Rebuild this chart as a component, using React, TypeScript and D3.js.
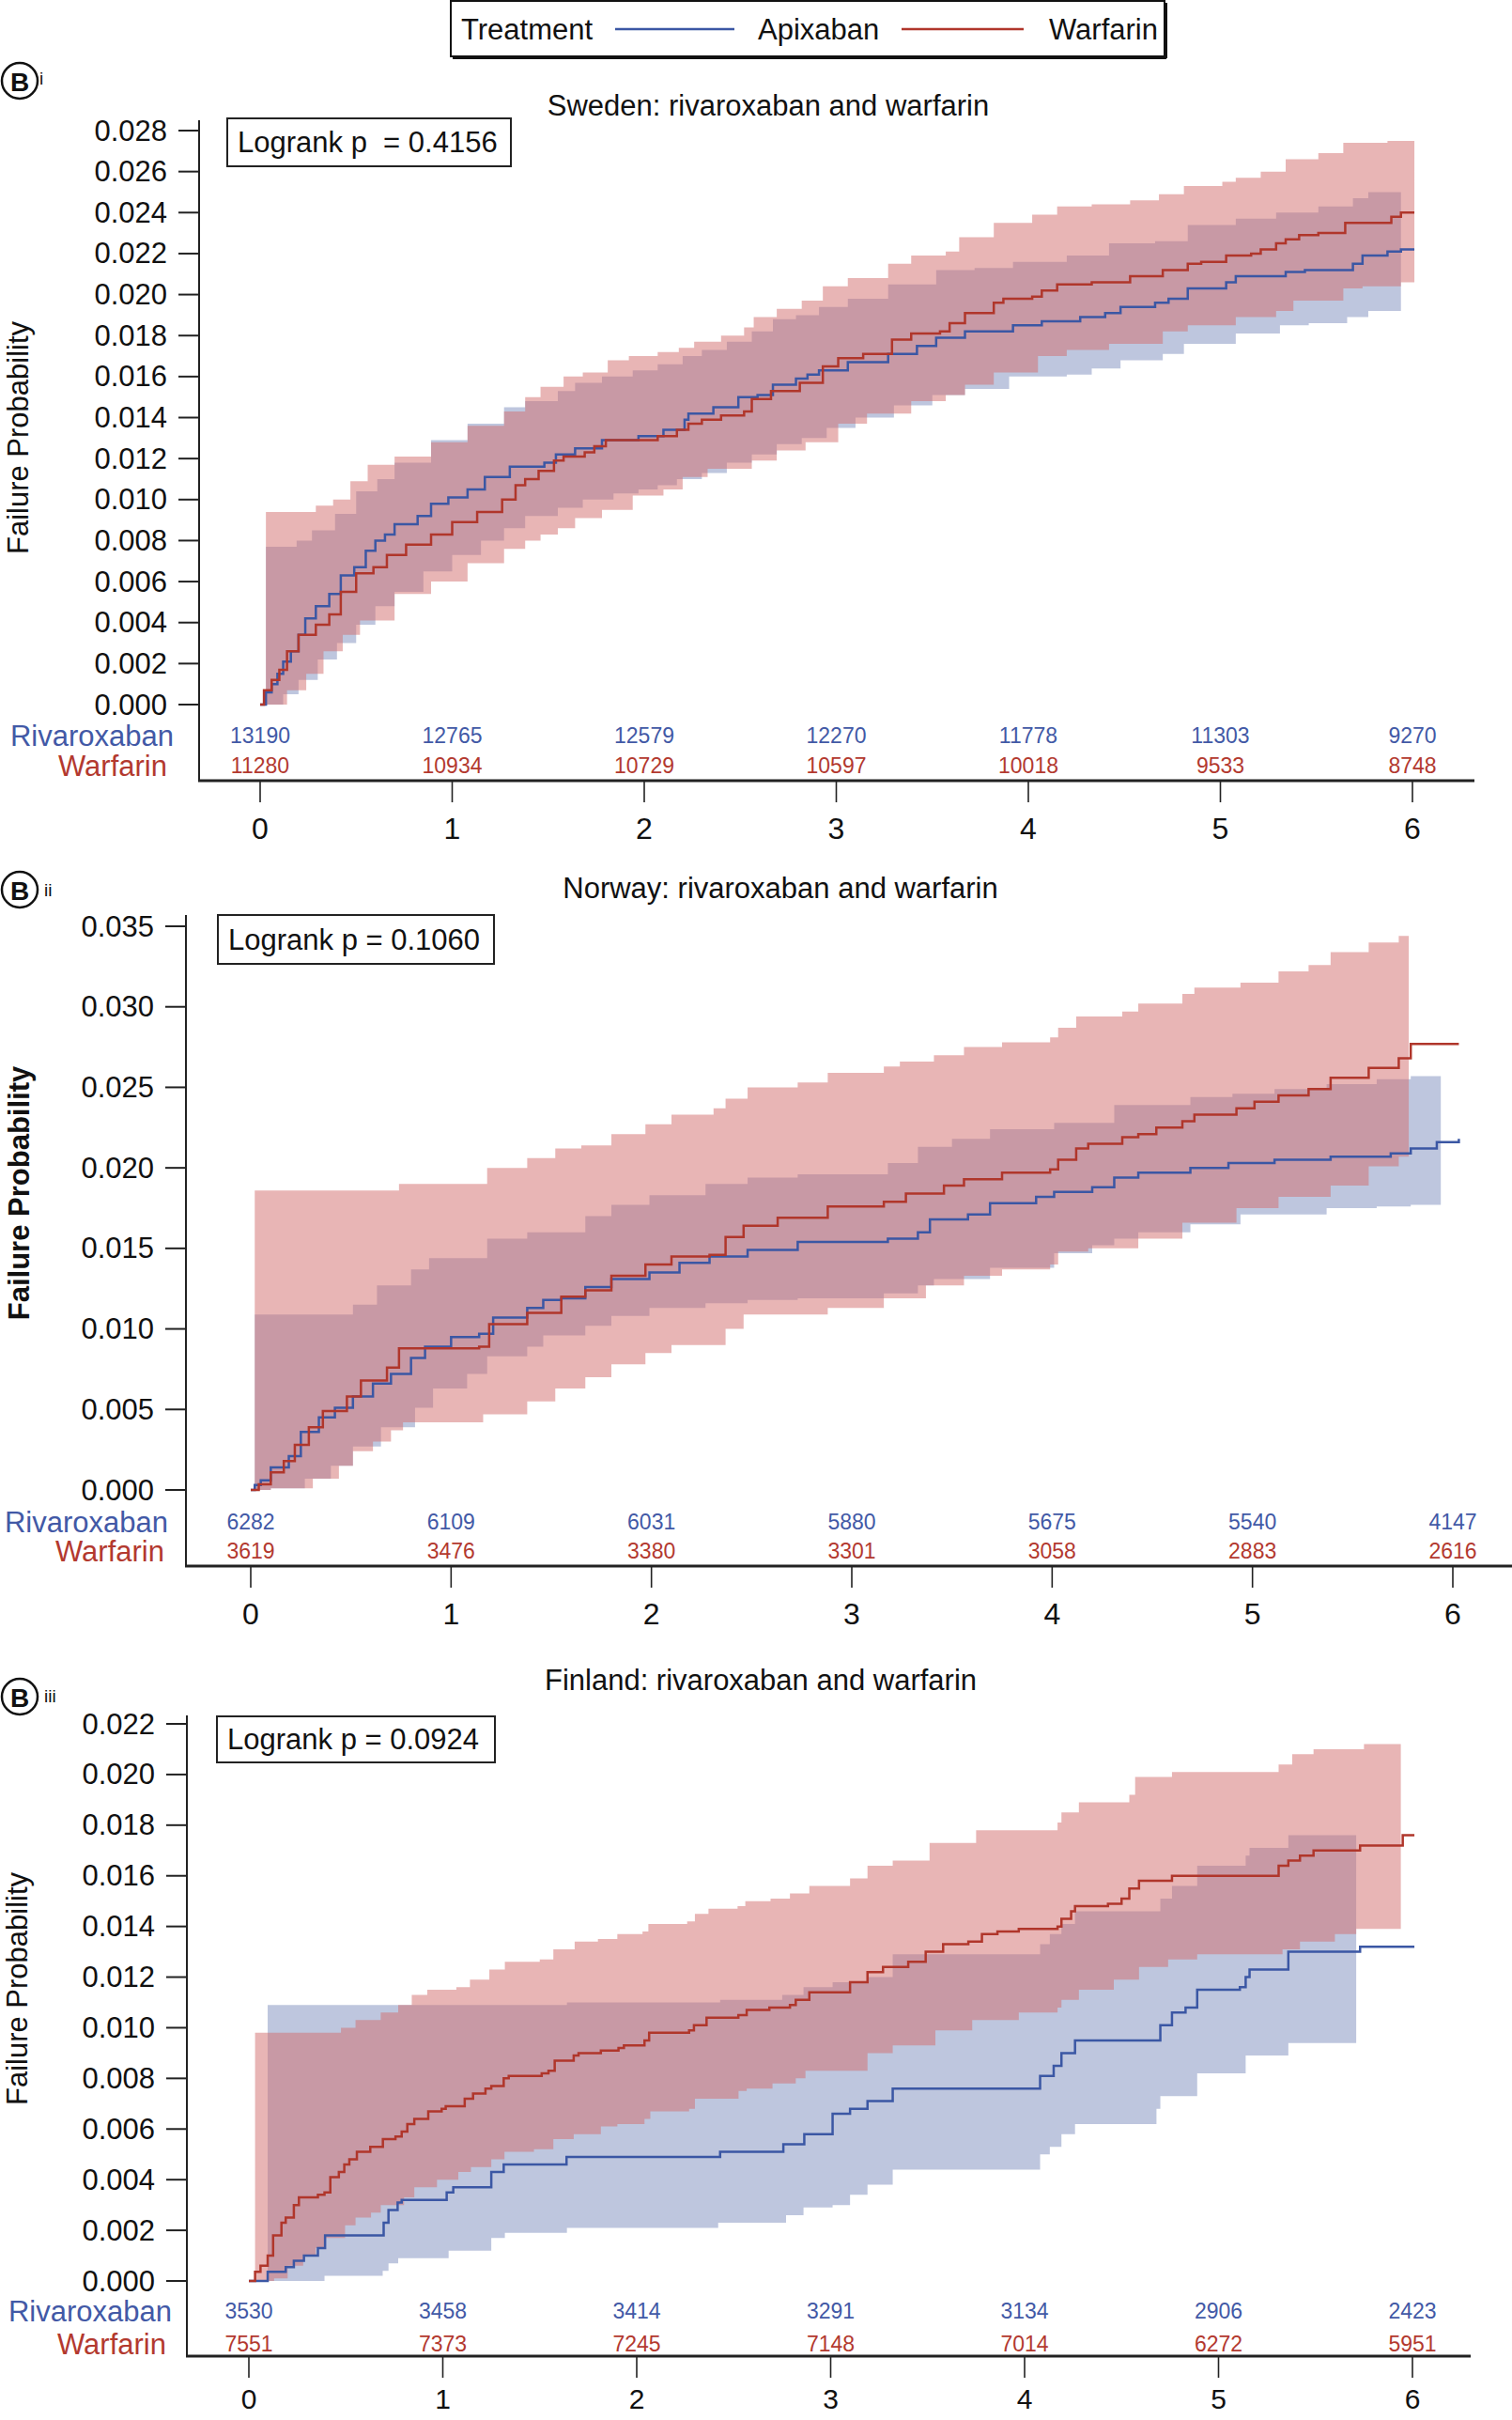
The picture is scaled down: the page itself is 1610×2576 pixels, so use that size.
import React from 'react';
import * as d3 from 'd3';

// ---------------- DATA ----------------
const years = [0, 1, 2, 3, 4, 5, 6];
const legendItems = ['Apixaban', 'Warfarin'];

// Sweden
const swedenTitle = 'Sweden: rivaroxaban and warfarin';
const swedenLogrank = 'Logrank p  = 0.4156';
const swedenRiskRivaroxaban = [13190, 12765, 12579, 12270, 11778, 11303, 9270];
const swedenRiskWarfarin = [11280, 10934, 10729, 10597, 10018, 9533, 8748];
const swedenRivaroxaban = [
  [0, 0], [0.03, 0.0006], [0.06, 0.001], [0.09, 0.0015], [0.12, 0.0021], [0.16, 0.0026], [0.2, 0.0034], [0.235, 0.0042],
  [0.29, 0.0048], [0.36, 0.0054], [0.42, 0.0063], [0.49, 0.0067], [0.55, 0.0075], [0.6, 0.008], [0.65, 0.0083], [0.7, 0.0088],
  [0.82, 0.0092], [0.89, 0.0098], [0.98, 0.0101], [1.08, 0.0105], [1.17, 0.0111], [1.3, 0.0116], [1.48, 0.0118], [1.54, 0.0122],
  [1.64, 0.0125], [1.78, 0.0129], [1.97, 0.0131], [2.1, 0.0134], [2.21, 0.0139], [2.23, 0.0142], [2.36, 0.0145], [2.49, 0.015],
  [2.59, 0.0151], [2.67, 0.0156], [2.79, 0.0159], [2.85, 0.0161], [2.91, 0.0163], [3.06, 0.0167], [3.27, 0.0171], [3.42, 0.0175],
  [3.52, 0.0179], [3.67, 0.0182], [3.92, 0.0185], [4.07, 0.0187], [4.27, 0.0189], [4.4, 0.0191], [4.48, 0.0194], [4.66, 0.0196],
  [4.73, 0.0198], [4.83, 0.0203], [5.03, 0.0206], [5.08, 0.0209], [5.34, 0.0211], [5.44, 0.0212], [5.69, 0.0215], [5.74, 0.0219],
  [5.87, 0.0221], [5.94, 0.0222], [6.01, 0.0222],
];
const swedenWarfarin = [
  [0, 0], [0.02, 0.0007], [0.06, 0.0012], [0.1, 0.0017], [0.14, 0.0026], [0.2, 0.0034], [0.29, 0.0039], [0.36, 0.0044],
  [0.42, 0.0055], [0.5, 0.0064], [0.59, 0.0067], [0.66, 0.0073], [0.76, 0.0078], [0.89, 0.0083], [1.0, 0.0089], [1.13, 0.0094],
  [1.26, 0.01], [1.33, 0.0107], [1.38, 0.011], [1.45, 0.0114], [1.53, 0.0119], [1.58, 0.0121], [1.69, 0.0123], [1.74, 0.0126],
  [1.8, 0.0129], [2.07, 0.0131], [2.17, 0.0134], [2.23, 0.0137], [2.3, 0.0139], [2.4, 0.0141], [2.52, 0.0143], [2.56, 0.0149],
  [2.66, 0.0153], [2.81, 0.0157], [2.93, 0.0165], [3.01, 0.0169], [3.14, 0.0171], [3.29, 0.0178], [3.39, 0.0181], [3.54, 0.0182],
  [3.59, 0.0186], [3.67, 0.0191], [3.82, 0.0196], [3.87, 0.0198], [4.02, 0.0199], [4.07, 0.0202], [4.15, 0.0205], [4.33, 0.0206],
  [4.53, 0.0209], [4.7, 0.0212], [4.83, 0.0215], [4.9, 0.0216], [5.03, 0.0219], [5.16, 0.022], [5.21, 0.0222], [5.29, 0.0225],
  [5.34, 0.0227], [5.41, 0.0229], [5.51, 0.023], [5.65, 0.0235], [5.89, 0.0238], [5.94, 0.024], [6.01, 0.024],
];
const swedenWarfarinUpper = [
  [0.03, 0.0094], [0.29, 0.0097], [0.38, 0.01], [0.47, 0.0109], [0.56, 0.0117], [0.7, 0.0121], [0.89, 0.0128], [1.08, 0.0136],
  [1.27, 0.0143], [1.38, 0.015], [1.46, 0.0155], [1.58, 0.016], [1.68, 0.0162], [1.81, 0.0168], [1.92, 0.017], [2.07, 0.0172],
  [2.18, 0.0174], [2.26, 0.0177], [2.4, 0.018], [2.52, 0.0184], [2.57, 0.0189], [2.69, 0.0193], [2.82, 0.0197], [2.93, 0.0204],
  [3.06, 0.0208], [3.27, 0.0215], [3.39, 0.0219], [3.57, 0.0221], [3.64, 0.0228], [3.82, 0.0235], [4.02, 0.0239], [4.15, 0.0243],
  [4.33, 0.0244], [4.53, 0.0246], [4.68, 0.0249], [4.81, 0.0253], [5.01, 0.0255], [5.08, 0.0257], [5.21, 0.026], [5.34, 0.0266],
  [5.51, 0.0269], [5.64, 0.0274], [5.87, 0.0275], [6.01, 0.0277],
];
const swedenWarfarinLower = [
  [0.03, 0], [0.14, 0.0007], [0.24, 0.0015], [0.33, 0.0026], [0.43, 0.0034], [0.52, 0.0041], [0.7, 0.0054], [0.89, 0.006],
  [1.08, 0.0069], [1.27, 0.0076], [1.38, 0.008], [1.46, 0.0083], [1.55, 0.0086], [1.64, 0.0091], [1.78, 0.0095], [1.94, 0.0102],
  [2.1, 0.0105], [2.2, 0.0111], [2.33, 0.0115], [2.56, 0.0119], [2.69, 0.0124], [2.84, 0.0128], [3.01, 0.0137], [3.16, 0.0142],
  [3.39, 0.0148], [3.57, 0.0151], [3.67, 0.0156], [3.82, 0.0162], [4.05, 0.017], [4.2, 0.0173], [4.42, 0.0176], [4.7, 0.0182],
  [4.83, 0.0185], [5.08, 0.0189], [5.29, 0.0192], [5.38, 0.0197], [5.64, 0.0203], [5.74, 0.0204], [5.94, 0.0206], [6.01, 0.0207],
];
const swedenRivaroxabanUpper = [
  [0.03, 0.0077], [0.19, 0.008], [0.27, 0.0085], [0.39, 0.0093], [0.5, 0.0104], [0.61, 0.011], [0.7, 0.0118], [0.89, 0.0129],
  [1.08, 0.0137], [1.27, 0.0145], [1.38, 0.0148], [1.55, 0.0153], [1.64, 0.0157], [1.78, 0.016], [1.94, 0.0163], [2.07, 0.0166],
  [2.2, 0.017], [2.3, 0.0173], [2.43, 0.0177], [2.56, 0.0182], [2.67, 0.0188], [2.79, 0.019], [2.91, 0.0194], [3.06, 0.0198],
  [3.27, 0.0205], [3.52, 0.0212], [3.72, 0.0213], [3.92, 0.0216], [4.2, 0.0219], [4.42, 0.0225], [4.66, 0.0226], [4.83, 0.0234],
  [5.08, 0.0237], [5.29, 0.024], [5.51, 0.0243], [5.69, 0.0247], [5.77, 0.025], [5.94, 0.0252],
];
const swedenRivaroxabanLower = [
  [0.03, 0], [0.12, 0.0005], [0.2, 0.0012], [0.3, 0.0022], [0.4, 0.003], [0.5, 0.0039], [0.6, 0.0048], [0.7, 0.0055],
  [0.85, 0.0065], [1.0, 0.0073], [1.15, 0.008], [1.27, 0.0086], [1.38, 0.0092], [1.55, 0.0096], [1.68, 0.01], [1.84, 0.0103],
  [1.97, 0.0105], [2.07, 0.0107], [2.17, 0.011], [2.3, 0.0113], [2.43, 0.0118], [2.56, 0.0122], [2.69, 0.0127], [2.82, 0.013],
  [2.95, 0.0135], [3.1, 0.014], [3.3, 0.0146], [3.5, 0.0151], [3.67, 0.0154], [3.9, 0.016], [4.2, 0.0161], [4.33, 0.0164],
  [4.48, 0.0168], [4.7, 0.0171], [4.81, 0.0176], [5.08, 0.0181], [5.31, 0.0185], [5.46, 0.0186], [5.66, 0.0189], [5.77, 0.0192],
  [5.94, 0.0195],
];

// Norway
const norwayTitle = 'Norway: rivaroxaban and warfarin';
const norwayLogrank = 'Logrank p = 0.1060';
const norwayRiskRivaroxaban = [6282, 6109, 6031, 5880, 5675, 5540, 4147];
const norwayRiskWarfarin = [3619, 3476, 3380, 3301, 3058, 2883, 2616];
const norwayRivaroxaban = [
  [0, 0], [0.02, 0.0003], [0.05, 0.0006], [0.1, 0.0014], [0.19, 0.0021], [0.25, 0.0036], [0.34, 0.0045], [0.42, 0.0051],
  [0.51, 0.0058], [0.61, 0.0066], [0.7, 0.0072], [0.8, 0.0082], [0.87, 0.0089], [1.0, 0.0095], [1.14, 0.0097], [1.21, 0.0107],
  [1.38, 0.0113], [1.46, 0.0118], [1.55, 0.0119], [1.67, 0.0126], [1.8, 0.0131], [1.99, 0.0135], [2.14, 0.0141], [2.29, 0.0145],
  [2.48, 0.0149], [2.73, 0.0154], [3.18, 0.0156], [3.33, 0.016], [3.39, 0.0168], [3.58, 0.0171], [3.69, 0.0178], [3.92, 0.0182],
  [4.01, 0.0185], [4.2, 0.0188], [4.31, 0.0194], [4.43, 0.0197], [4.69, 0.02], [4.88, 0.0203], [5.11, 0.0205], [5.39, 0.0207],
  [5.69, 0.0209], [5.79, 0.0212], [5.92, 0.0216], [6.03, 0.0218],
];
const norwayWarfarin = [
  [0, 0], [0.04, 0.00035], [0.1, 0.0011], [0.165, 0.0018], [0.22, 0.0028], [0.29, 0.0039], [0.36, 0.0049], [0.48, 0.0058],
  [0.55, 0.0068], [0.68, 0.0076], [0.74, 0.0088], [1.14, 0.0089], [1.19, 0.0103], [1.38, 0.011], [1.55, 0.012], [1.67, 0.0124],
  [1.8, 0.0133], [1.97, 0.014], [2.1, 0.0145], [2.29, 0.0146], [2.37, 0.0157], [2.46, 0.0164], [2.63, 0.0169], [2.88, 0.0176],
  [3.16, 0.0179], [3.27, 0.0184], [3.46, 0.0189], [3.56, 0.0193], [3.75, 0.0197], [3.99, 0.0199], [4.03, 0.0205], [4.12, 0.0212],
  [4.18, 0.0215], [4.35, 0.0219], [4.43, 0.0221], [4.52, 0.0225], [4.65, 0.0229], [4.71, 0.0233], [4.92, 0.0237], [5.01, 0.0241],
  [5.13, 0.0245], [5.28, 0.0249], [5.39, 0.0256], [5.58, 0.0262], [5.73, 0.0268], [5.79, 0.0277], [6.03, 0.0277],
];
const norwayWarfarinUpper = [
  [0.02, 0.0186], [0.74, 0.019], [1.18, 0.02], [1.38, 0.0206], [1.52, 0.0212], [1.65, 0.0214], [1.8, 0.0221], [1.97, 0.0227],
  [2.1, 0.0233], [2.31, 0.0237], [2.37, 0.0243], [2.48, 0.025], [2.73, 0.0253], [2.88, 0.0259], [3.16, 0.0263], [3.24, 0.0266],
  [3.41, 0.027], [3.56, 0.0275], [3.75, 0.0278], [3.99, 0.0281], [4.03, 0.0287], [4.12, 0.0294], [4.35, 0.0297], [4.43, 0.0302],
  [4.65, 0.0308], [4.71, 0.0312], [4.94, 0.0315], [5.13, 0.0322], [5.28, 0.0326], [5.39, 0.0334], [5.58, 0.034], [5.73, 0.0344],
  [5.78, 0.0344],
];
const norwayWarfarinLower = [
  [0.02, 0], [0.1, 0.0001], [0.31, 0.0007], [0.44, 0.0015], [0.51, 0.0024], [0.61, 0.003], [0.7, 0.0037], [0.76, 0.0042],
  [1.16, 0.0047], [1.38, 0.0055], [1.52, 0.0063], [1.67, 0.007], [1.8, 0.0078], [1.97, 0.0085], [2.1, 0.009], [2.37, 0.01],
  [2.46, 0.0109], [2.88, 0.0113], [3.16, 0.0119], [3.37, 0.0127], [3.56, 0.0133], [3.75, 0.0137], [3.99, 0.014], [4.03, 0.0148],
  [4.18, 0.015], [4.43, 0.0156], [4.65, 0.0166], [4.92, 0.0175], [5.13, 0.0182], [5.39, 0.0189], [5.58, 0.0201], [5.73, 0.0207],
  [5.78, 0.0207],
];
const norwayRivaroxabanUpper = [
  [0.02, 0.0109], [0.51, 0.0115], [0.63, 0.0127], [0.8, 0.0137], [0.89, 0.0144], [1.18, 0.0156], [1.38, 0.016], [1.67, 0.017],
  [1.8, 0.0177], [1.99, 0.0183], [2.27, 0.019], [2.48, 0.0194], [2.73, 0.0196], [3.18, 0.0203], [3.33, 0.0213], [3.5, 0.0218],
  [3.69, 0.0224], [4.01, 0.0228], [4.31, 0.0239], [4.69, 0.0244], [4.9, 0.0246], [5.11, 0.0249], [5.37, 0.0252], [5.62, 0.0255],
  [5.79, 0.0257], [5.94, 0.0259],
];
const norwayRivaroxabanLower = [
  [0.02, 0], [0.1, 0.0001], [0.27, 0.0007], [0.4, 0.0015], [0.51, 0.0027], [0.65, 0.0039], [0.82, 0.0051], [0.91, 0.0063],
  [1.08, 0.0072], [1.18, 0.0083], [1.38, 0.0089], [1.46, 0.0096], [1.67, 0.0102], [1.8, 0.0108], [1.99, 0.0113], [2.27, 0.0116],
  [2.48, 0.0118], [2.73, 0.0119], [3.16, 0.0122], [3.33, 0.0127], [3.41, 0.0131], [3.69, 0.0138], [4.01, 0.0147], [4.2, 0.0152],
  [4.31, 0.0156], [4.43, 0.016], [4.69, 0.0165], [4.94, 0.0171], [5.37, 0.0175], [5.62, 0.0176], [5.79, 0.0177], [5.94, 0.0177],
];

// Finland
const finlandTitle = 'Finland: rivaroxaban and warfarin';
const finlandLogrank = 'Logrank p = 0.0924';
const finlandRiskRivaroxaban = [3530, 3458, 3414, 3291, 3134, 2906, 2423];
const finlandRiskWarfarin = [7551, 7373, 7245, 7148, 7014, 6272, 5951];
const finlandRivaroxaban = [
  [0, 0], [0.097, 0.00036], [0.19, 0.00055], [0.232, 0.0008], [0.284, 0.001], [0.356, 0.0013], [0.393, 0.0018], [0.695, 0.0023],
  [0.72, 0.0028], [0.767, 0.0031], [0.788, 0.0032], [1.02, 0.0035], [1.054, 0.0037], [1.25, 0.0043], [1.314, 0.0046], [1.638, 0.0049],
  [2.43, 0.0051], [2.756, 0.0054], [2.864, 0.0058], [3.01, 0.0066], [3.1, 0.0068], [3.19, 0.0071], [3.32, 0.0076], [4.08, 0.0081],
  [4.15, 0.0085], [4.19, 0.009], [4.26, 0.0095], [4.7, 0.0101], [4.76, 0.0106], [4.83, 0.0108], [4.89, 0.0115], [5.11, 0.0116],
  [5.14, 0.012], [5.16, 0.0123], [5.36, 0.013], [5.73, 0.0132], [6.01, 0.0132],
];
const finlandWarfarin = [
  [0, 0], [0.032, 0.00036], [0.06, 0.0006], [0.097, 0.001], [0.125, 0.0018], [0.168, 0.0023], [0.19, 0.0025], [0.232, 0.003],
  [0.258, 0.0033], [0.356, 0.0034], [0.39, 0.0035], [0.42, 0.0041], [0.464, 0.0043], [0.492, 0.0046], [0.518, 0.0048], [0.557, 0.0051],
  [0.626, 0.0053], [0.691, 0.0056], [0.756, 0.0057], [0.788, 0.0059], [0.817, 0.0062], [0.853, 0.0064], [0.925, 0.0067], [0.994, 0.0068],
  [1.015, 0.0069], [1.113, 0.0072], [1.156, 0.0074], [1.22, 0.0076], [1.25, 0.0077], [1.314, 0.008], [1.34, 0.0081], [1.51, 0.0082],
  [1.545, 0.0083], [1.577, 0.0087], [1.675, 0.0089], [1.7, 0.009], [1.815, 0.0091], [1.906, 0.0092], [1.934, 0.0093], [2.04, 0.0095],
  [2.064, 0.0098], [2.27, 0.0099], [2.295, 0.0101], [2.36, 0.0104], [2.524, 0.0105], [2.567, 0.0107], [2.684, 0.0108], [2.79, 0.0109],
  [2.82, 0.0111], [2.89, 0.0114], [3.1, 0.0118], [3.19, 0.0122], [3.27, 0.0124], [3.4, 0.0126], [3.49, 0.013], [3.58, 0.0133],
  [3.71, 0.0134], [3.78, 0.0137], [3.86, 0.0138], [3.97, 0.0139], [4.17, 0.014], [4.19, 0.0143], [4.24, 0.0146], [4.26, 0.0148],
  [4.43, 0.0149], [4.5, 0.0151], [4.54, 0.0155], [4.59, 0.0158], [4.76, 0.016], [5.31, 0.0164], [5.36, 0.0166], [5.42, 0.0168],
  [5.49, 0.017], [5.73, 0.0172], [5.95, 0.0176], [6.01, 0.0176],
];
const finlandWarfarinUpper = [
  [0.032, 0.0098], [0.42, 0.0098], [0.475, 0.01], [0.55, 0.0103], [0.68, 0.0106], [0.77, 0.0109], [0.84, 0.0113], [0.92, 0.0115],
  [1.07, 0.0116], [1.14, 0.0119], [1.24, 0.0123], [1.32, 0.0126], [1.5, 0.0127], [1.57, 0.0131], [1.68, 0.0134], [1.8, 0.0135],
  [1.9, 0.0137], [2.03, 0.0138], [2.06, 0.0141], [2.26, 0.0142], [2.3, 0.0145], [2.37, 0.0147], [2.52, 0.0148], [2.56, 0.015],
  [2.69, 0.0151], [2.79, 0.0153], [2.89, 0.0156], [3.1, 0.0159], [3.19, 0.0164], [3.32, 0.0166], [3.51, 0.0173], [3.75, 0.0178],
  [4.17, 0.0181], [4.19, 0.0185], [4.28, 0.0189], [4.54, 0.0192], [4.57, 0.0199], [4.76, 0.0201], [5.31, 0.0204], [5.38, 0.0208],
  [5.49, 0.021], [5.75, 0.0212], [5.94, 0.0212],
];
const finlandWarfarinLower = [
  [0.032, 0], [0.13, 0.0001], [0.2, 0.0006], [0.28, 0.001], [0.345, 0.0013], [0.39, 0.0017], [0.496, 0.0022], [0.55, 0.0025],
  [0.63, 0.0027], [0.68, 0.003], [0.8, 0.0033], [0.853, 0.0037], [0.97, 0.004], [1.08, 0.0043], [1.145, 0.0045], [1.25, 0.0048],
  [1.318, 0.0051], [1.47, 0.0052], [1.57, 0.0056], [1.675, 0.0058], [1.815, 0.0061], [1.9, 0.0062], [2.04, 0.0064], [2.07, 0.0067],
  [2.27, 0.0068], [2.3, 0.0072], [2.525, 0.0075], [2.567, 0.0076], [2.7, 0.0078], [2.82, 0.008], [2.87, 0.0083], [3.19, 0.009],
  [3.32, 0.0093], [3.54, 0.0099], [3.73, 0.0103], [3.97, 0.0106], [4.17, 0.0108], [4.19, 0.0111], [4.28, 0.0115], [4.46, 0.0119],
  [4.59, 0.0124], [4.74, 0.0127], [4.89, 0.0129], [5.33, 0.0131], [5.42, 0.0134], [5.6, 0.0137], [5.71, 0.0139], [5.94, 0.014],
];
const finlandRivaroxabanUpper = [
  [0.097, 0.0109], [1.64, 0.011], [2.43, 0.0111], [2.75, 0.0113], [2.86, 0.0116], [3.01, 0.0118], [3.19, 0.012], [3.32, 0.0129],
  [4.08, 0.0133], [4.13, 0.0137], [4.19, 0.0141], [4.26, 0.0146], [4.7, 0.0151], [4.76, 0.0156], [4.89, 0.0164], [5.14, 0.0168],
  [5.16, 0.0171], [5.36, 0.0176], [5.71, 0.0176],
];
const finlandRivaroxabanLower = [
  [0.097, 0], [0.39, 0.0002], [0.69, 0.0004], [0.72, 0.0007], [0.77, 0.0009], [1.03, 0.0012], [1.25, 0.0017], [1.32, 0.0019],
  [1.64, 0.0021], [2.42, 0.0023], [2.77, 0.0026], [2.86, 0.0029], [3.01, 0.003], [3.1, 0.0034], [3.19, 0.0038], [3.32, 0.0044],
  [4.08, 0.005], [4.13, 0.0053], [4.19, 0.0058], [4.26, 0.0062], [4.68, 0.0068], [4.7, 0.0073], [4.89, 0.0082], [5.14, 0.0089],
  [5.36, 0.0094], [5.71, 0.0094],
];

// ---------------- STYLE ----------------
const FONT = "'Liberation Sans', Arial, Helvetica, sans-serif";
const BLUE_LINE = '#3b57a4';
const RED_LINE = '#b0362b';
const BLUE_TEXT = '#4259a6';
const RED_TEXT = '#b3392f';
const BLUE_BAND = '#bec6de';
const RED_BAND = 'rgb(210,108,108)';

type Pt = number[];

function stepPts(arr: Pt[]): Pt[] {
  const out: Pt[] = [];
  arr.forEach((d, i) => {
    out.push(d);
    if (i < arr.length - 1) out.push([arr[i + 1][0], d[1]]);
  });
  return out;
}

function Panel({ L, D }: any) {
  const x = d3.scaleLinear().domain([0, 6]).range([L.x0, L.x6]);
  const y = d3.scaleLinear().domain([0, L.yMax]).range([L.yZero, L.yTop]);
  const nT = Math.round(L.yMax / L.yStep);
  const yTicks = d3.range(0, nT + 1).map((i) => i * L.yStep);
  const fmt = d3.format('.3f');
  const stepLine = d3.line<Pt>().x((d) => x(d[0])).y((d) => y(d[1])).curve(d3.curveStepAfter);
  const poly = d3.line<Pt>().x((d) => x(d[0])).y((d) => y(d[1]));
  const band = (up: Pt[], lo: Pt[]) => poly(stepPts(up).concat(stepPts(lo).reverse())) + 'Z';

  return (
    <g>
      {/* panel label */}
      <circle cx={L.circleX} cy={L.circleY} r={19} fill="none" stroke="#111" strokeWidth={2.5} />
      <text x={L.circleX} y={L.circleY + 1} textAnchor="middle" dominantBaseline="central" fontFamily={FONT} fontWeight="bold" fontSize={28} fill="#111">B</text>
      <text x={L.subX} y={L.subY} fontFamily={FONT} fontSize={19} fill="#111">{L.sub}</text>
      {/* title */}
      <text x={L.titleX} y={L.titleY} textAnchor="middle" dominantBaseline="central" fontFamily={FONT} fontSize={31} fill="#111">{D.title}</text>

      {/* bands */}
      <path d={band(D.rivUp, D.rivLo)} fill={BLUE_BAND} stroke="none" />
      <path d={band(D.warUp, D.warLo)} fill={RED_BAND} fillOpacity={0.5} stroke="none" />
      {/* curves */}
      <path d={stepLine(D.riv) || ''} fill="none" stroke={BLUE_LINE} strokeWidth={2.5} />
      <path d={stepLine(D.war) || ''} fill="none" stroke={RED_LINE} strokeWidth={2.5} />

      {/* y axis */}
      <line x1={L.axisX} x2={L.axisX} y1={L.axisTop} y2={L.xAxisY} stroke="#222" strokeWidth={2} />
      {yTicks.map((t, i) => (
        <g key={i}>
          <line x1={L.axisX - 22} x2={L.axisX} y1={y(t)} y2={y(t)} stroke="#222" strokeWidth={2} />
          <text x={L.axisX - 34} y={y(t)} textAnchor="end" dominantBaseline="central" fontFamily={FONT} fontSize={31} fill="#111">{fmt(t)}</text>
        </g>
      ))}
      <text transform={`translate(${L.yLabelX},${L.yLabelY}) rotate(-90)`} textAnchor="middle" fontFamily={FONT} fontWeight={L.bold ? 'bold' : 'normal'} fontSize={31} fill="#111">Failure Probability</text>

      {/* logrank box */}
      <rect x={L.boxX} y={L.boxY} width={L.boxW} height={L.boxH} fill="#fff" stroke="#222" strokeWidth={2} />
      <text x={L.boxX + 11} y={L.boxY + L.boxH / 2} dominantBaseline="central" fontFamily={FONT} fontSize={31} fill="#111" style={{ whiteSpace: 'pre' }}>{D.logrank}</text>

      {/* at risk */}
      <text x={L.rivLabelRight} y={L.rivY} textAnchor="end" dominantBaseline="central" fontFamily={FONT} fontSize={31} fill={BLUE_TEXT}>Rivaroxaban</text>
      <text x={L.warLabelRight} y={L.warY} textAnchor="end" dominantBaseline="central" fontFamily={FONT} fontSize={31} fill={RED_TEXT}>Warfarin</text>
      {years.map((yr, i) => (
        <g key={yr}>
          <text x={x(yr)} y={L.rivY} textAnchor="middle" dominantBaseline="central" fontFamily={FONT} fontSize={23} fill={BLUE_TEXT}>{D.riskRiv[i]}</text>
          <text x={x(yr)} y={L.warY} textAnchor="middle" dominantBaseline="central" fontFamily={FONT} fontSize={23} fill={RED_TEXT}>{D.riskWar[i]}</text>
        </g>
      ))}

      {/* x axis */}
      <line x1={L.axisX - 1} x2={L.xAxisRight} y1={L.xAxisY} y2={L.xAxisY} stroke="#222" strokeWidth={3} />
      {years.map((yr) => (
        <g key={'t' + yr}>
          <line x1={x(yr)} x2={x(yr)} y1={L.xAxisY} y2={L.xAxisY + 23} stroke="#222" strokeWidth={1.6} />
          <text x={x(yr)} y={L.xLabelY} textAnchor="middle" dominantBaseline="central" fontFamily={FONT} fontSize={L.xLabelSize} fill="#111">{yr}</text>
        </g>
      ))}
    </g>
  );
}

const layouts = [
  {
    x0: 277, x6: 1504, yMax: 0.028, yStep: 0.002, yZero: 750, yTop: 139,
    axisX: 212, axisTop: 128, xAxisY: 831, xAxisRight: 1570, xLabelY: 882, xLabelSize: 32,
    circleX: 21, circleY: 86, subX: 42, subY: 90, sub: 'i', titleX: 818, titleY: 112,
    boxX: 242, boxY: 126, boxW: 302, boxH: 51,
    rivY: 783, warY: 815, rivLabelRight: 185, warLabelRight: 178,
    yLabelX: 30, yLabelY: 466, bold: false,
  },
  {
    x0: 267, x6: 1547, yMax: 0.035, yStep: 0.005, yZero: 1586, yTop: 986,
    axisX: 198, axisTop: 974, xAxisY: 1667, xAxisRight: 1610, xLabelY: 1718, xLabelSize: 32,
    circleX: 21, circleY: 947, subX: 47, subY: 954, sub: 'ii', titleX: 831, titleY: 945,
    boxX: 232, boxY: 974, boxW: 294, boxH: 52,
    rivY: 1620, warY: 1651, rivLabelRight: 179, warLabelRight: 175,
    yLabelX: 31, yLabelY: 1270, bold: true,
  },
  {
    x0: 265, x6: 1504, yMax: 0.022, yStep: 0.002, yZero: 2428, yTop: 1835,
    axisX: 199, axisTop: 1826, xAxisY: 2508, xAxisRight: 1566, xLabelY: 2553, xLabelSize: 30,
    circleX: 21, circleY: 1806, subX: 47, subY: 1812, sub: 'iii', titleX: 810, titleY: 1788,
    boxX: 231, boxY: 1827, boxW: 296, boxH: 49,
    rivY: 2460, warY: 2495, rivLabelRight: 183, warLabelRight: 177,
    yLabelX: 29, yLabelY: 2117, bold: false,
  },
];

const datasets = [
  {
    title: swedenTitle, logrank: swedenLogrank, riskRiv: swedenRiskRivaroxaban, riskWar: swedenRiskWarfarin,
    riv: swedenRivaroxaban, war: swedenWarfarin, rivUp: swedenRivaroxabanUpper, rivLo: swedenRivaroxabanLower,
    warUp: swedenWarfarinUpper, warLo: swedenWarfarinLower,
  },
  {
    title: norwayTitle, logrank: norwayLogrank, riskRiv: norwayRiskRivaroxaban, riskWar: norwayRiskWarfarin,
    riv: norwayRivaroxaban, war: norwayWarfarin, rivUp: norwayRivaroxabanUpper, rivLo: norwayRivaroxabanLower,
    warUp: norwayWarfarinUpper, warLo: norwayWarfarinLower,
  },
  {
    title: finlandTitle, logrank: finlandLogrank, riskRiv: finlandRiskRivaroxaban, riskWar: finlandRiskWarfarin,
    riv: finlandRivaroxaban, war: finlandWarfarin, rivUp: finlandRivaroxabanUpper, rivLo: finlandRivaroxabanLower,
    warUp: finlandWarfarinUpper, warLo: finlandWarfarinLower,
  },
];

export default function App() {
  return (
    <svg width={1610} height={2576} style={{ position: 'absolute', left: 0, top: 0, background: '#fff' }}>
      <rect x={0} y={0} width={1610} height={2576} fill="#fff" />
      {/* legend */}
      <rect x={480} y={1} width={760} height={59} fill="#fff" stroke="#111" strokeWidth={2} />
      <line x1={482} x2={1242} y1={61.5} y2={61.5} stroke="#111" strokeWidth={3} />
      <line x1={1241.5} x2={1241.5} y1={3} y2={62} stroke="#111" strokeWidth={3} />
      <text x={491} y={31} dominantBaseline="central" fontFamily={FONT} fontSize={31} fill="#111">Treatment</text>
      <line x1={655} x2={782} y1={31} y2={31} stroke={BLUE_LINE} strokeWidth={2.5} />
      <text x={807} y={31} dominantBaseline="central" fontFamily={FONT} fontSize={31} fill="#111">{legendItems[0]}</text>
      <line x1={960} x2={1090} y1={31} y2={31} stroke={RED_LINE} strokeWidth={2.5} />
      <text x={1117} y={31} dominantBaseline="central" fontFamily={FONT} fontSize={31} fill="#111">{legendItems[1]}</text>
      {layouts.map((L, i) => (
        <Panel key={i} L={L} D={datasets[i]} />
      ))}
    </svg>
  );
}
